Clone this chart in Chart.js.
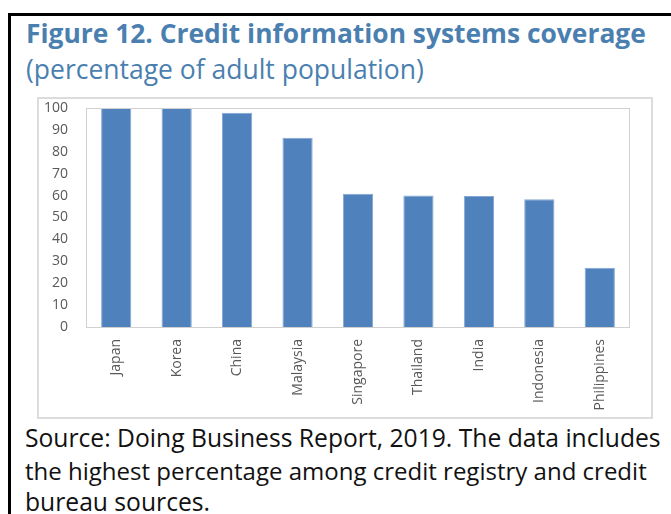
<!DOCTYPE html>
<html>
<head>
<meta charset="utf-8">
<script src="https://cdn.jsdelivr.net/npm/chart.js@4.4.1/dist/chart.umd.min.js"></script>
<style>
html, body { margin: 0; padding: 0; width: 671px; height: 514px; overflow: hidden; background: #fff; }
.box { position: absolute; left: 8px; top: 13px; width: 700px; height: 600px; border: 3px solid #000; box-sizing: border-box; }
.txt { position: absolute; white-space: nowrap; font-family: "Open Sans", sans-serif; }
.head { color: #4a7fb0; }
.src { color: #111; }
#frame { position: absolute; left: 37px; top: 97px; width: 616px; height: 322px; border: 2px solid #dcdcdc; box-sizing: border-box; }
#chart { display: block; }
</style>
</head>
<body>
<div class="box"></div>
<div id="title" class="txt head" style="left:26px;font-weight:700">Figure 12. Credit information systems coverage</div>
<div id="subtitle" class="txt head" style="left:26px;font-weight:400">(percentage of adult population)</div>
<div id="frame"><canvas id="chart" width="612" height="318"></canvas></div>
<div id="src1" class="txt src" style="left:25px">Source: Doing Business Report, 2019. The data includes</div>
<div id="src2" class="txt src" style="left:25px">the highest percentage among credit registry and credit</div>
<div id="src3" class="txt src" style="left:25px">bureau sources.</div>
<script>
// data
const countries = ['Japan', 'Korea', 'China', 'Malaysia', 'Singapore', 'Thailand', 'India', 'Indonesia', 'Philippines'];
const coverage = [100, 100, 97.8, 86.4, 60.8, 60.1, 59.8, 58.3, 27.0];
const yTickValues = [0, 10, 20, 30, 40, 50, 60, 70, 80, 90, 100];

// size a line of text so it spans the same width as in the figure
function fit(id, width, baseline, size) {
    var el = document.getElementById(id);
    var cs = getComputedStyle(el);
    var fs = size;
    if (!fs) {
        var ctx = document.createElement('canvas').getContext('2d');
        ctx.font = cs.fontWeight + ' 100px ' + cs.fontFamily;
        fs = 100 * width / ctx.measureText(el.textContent).width;
    }
    el.style.fontSize = fs + 'px';
    el.style.lineHeight = fs + 'px';
    el.style.top = (baseline - 0.888 * fs) + 'px';
    return fs;
}
fit('title', 620, 43);
fit('subtitle', 398, 80);
var srcSize = fit('src1', 636, 448);
fit('src2', 622, 480);
fit('src3', 0, 512, srcSize);

const plotFrame = {
    id: 'plotFrame',
    afterDatasetsDraw(chart) {
        const a = chart.chartArea, c = chart.ctx;
        c.save();
        c.strokeStyle = '#d0d0d0';
        c.lineWidth = 1;
        c.strokeRect(a.left + 0.5, a.top + 0.5, a.right - a.left - 1, a.bottom - a.top);
        c.restore();
    }
};

const tickFont = { family: 'Open Sans', size: 14 };

new Chart(document.getElementById('chart').getContext('2d'), {
    type: 'bar',
    data: {
        labels: countries,
        datasets: [{
            data: coverage,
            backgroundColor: '#4f81bd',
            borderColor: '#86a7d3',
            borderWidth: 1,
            categoryPercentage: 0.8,
            barPercentage: 0.625
        }]
    },
    options: {
        responsive: false,
        animation: false,
        layout: { padding: { top: 9, right: 21, left: 0, bottom: 0 } },
        plugins: { legend: { display: false }, tooltip: { enabled: false } },
        scales: {
            x: {
                grid: { display: false, drawTicks: false },
                border: { display: false },
                ticks: { color: '#595959', font: tickFont, minRotation: 90, maxRotation: 90, padding: 12, autoSkip: false },
                afterFit: (s) => { s.height = 90; s.paddingLeft = 0; s.paddingRight = 0; }
            },
            y: {
                min: 0,
                max: 100,
                grid: { display: false, drawTicks: false },
                border: { display: false },
                ticks: { color: '#595959', font: tickFont, padding: 18 },
                afterBuildTicks: (s) => { s.ticks = yTickValues.map(v => ({ value: v })); },
                afterFit: (s) => { s.width = 47; s.paddingTop = 0; s.paddingBottom = 0; }
            }
        }
    },
    plugins: [plotFrame]
});
</script>
</body>
</html>
